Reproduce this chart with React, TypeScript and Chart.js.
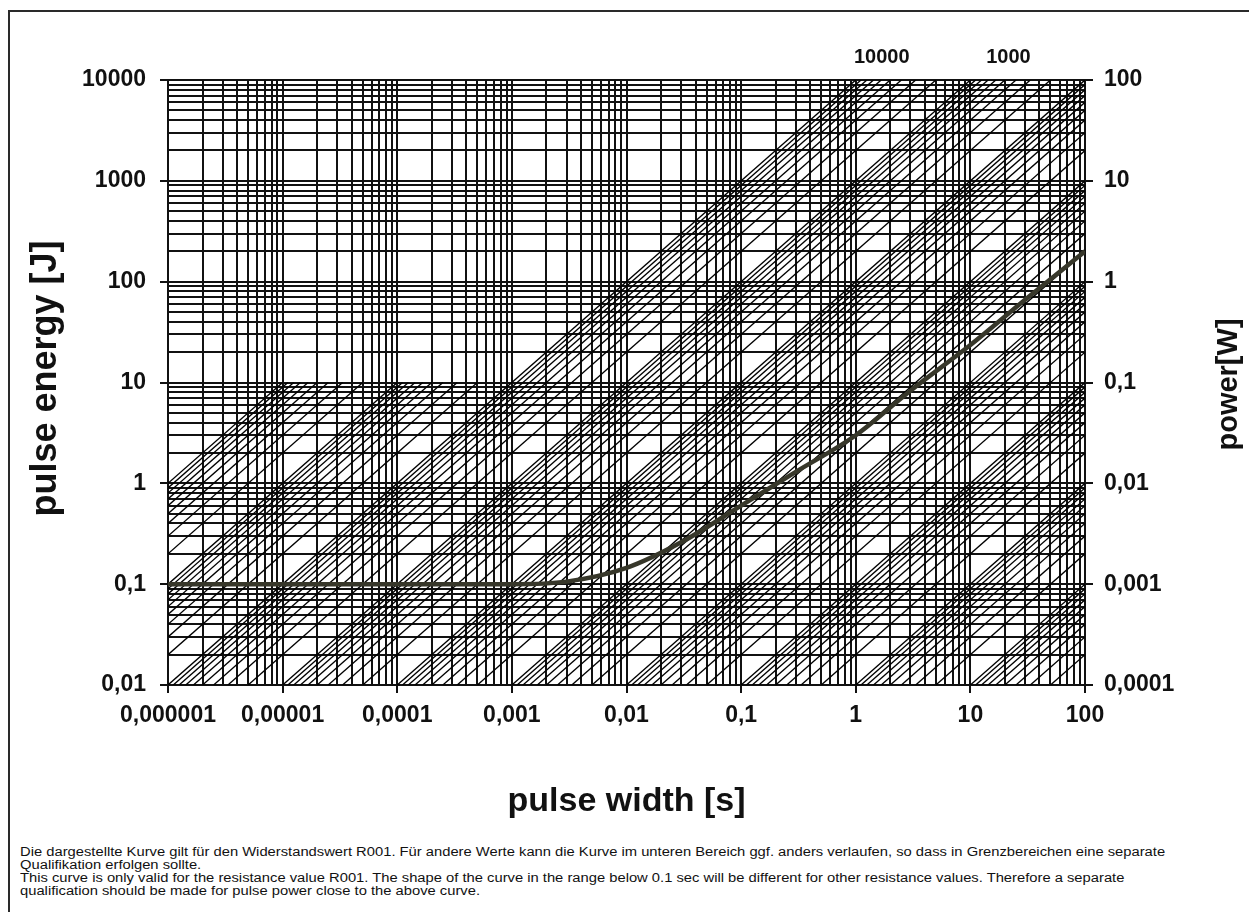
import React, { useEffect, useRef } from "react";
import { Chart, registerables } from "chart.js";

Chart.register(...registerables);

// ---- axis ticks ----
const xTickValues = [1e-6, 1e-5, 1e-4, 1e-3, 1e-2, 1e-1, 1, 10, 100];
const xTickLabels = ["0,000001", "0,00001", "0,0001", "0,001", "0,01", "0,1", "1", "10", "100"];
const yTickValues = [0.01, 0.1, 1, 10, 100, 1000, 10000];
const yTickLabels = ["0,01", "0,1", "1", "10", "100", "1000", "10000"];
const y2TickValues = [0.0001, 0.001, 0.01, 0.1, 1, 10, 100];
const y2TickLabels = ["0,0001", "0,001", "0,01", "0,1", "1", "10", "100"];
const gridMultipliers = [1, 2, 3, 4, 5, 6, 7, 8, 9];

// ---- main curve: pulse energy vs pulse width ----
const pulseWidth = [1e-6, 1e-5, 1e-4, 1e-3, 3e-3, 1e-2, 3e-2, 0.1, 0.3, 1, 3, 10, 30, 100];
const pulseEnergy = [0.1, 0.1, 0.1, 0.1, 0.106, 0.145, 0.26, 0.6, 1.3, 3.0, 8.3, 23.5, 66, 200];

// ---- constant-power diagonal lines (E = P * t) ----
const powerMantissas = [1, 2, 3, 4, 5, 6, 7, 8, 9];
const powerExponents = [-4, -3, -2, -1, 0, 1, 2, 3, 4, 5];
const extraPowers = [1e6];
const fullHeightPowerLimit = 1e4; // lines up to this power reach the top
const cappedEnergy = 10; // higher powers stop at this energy

// ---- labels above the plot (power of the lines) ----
const topLabelTexts = ["10000", "1000"];
const topLabelPowers = [10000, 1000];

const footerLines = [
  "Die dargestellte Kurve gilt für den Widerstandswert R001. Für andere Werte kann die Kurve im unteren Bereich ggf. anders verlaufen, so dass in Grenzbereichen eine separate",
  "Qualifikation erfolgen sollte.",
  "This curve is only valid for the resistance value R001. The shape of the curve in the range below 0.1 sec will be different for other resistance values. Therefore a separate",
  "qualification should be made for pulse power close to the above curve.",
];

const X_MIN = 1e-6, X_MAX = 100, Y_MIN = 0.01, Y_MAX = 10000, Y2_MIN = 0.0001, Y2_MAX = 100;
const W = 1249, H = 840;
const FONT = "'Liberation Sans', Arial, sans-serif";

const clean = (v: number) => parseFloat(v.toPrecision(12));
function gridValues(min: number, max: number) {
  const out: number[] = [];
  const e0 = Math.round(Math.log10(min));
  const e1 = Math.round(Math.log10(max));
  for (let e = e0; e <= e1; e++) {
    for (const m of gridMultipliers) {
      const v = clean(m * Math.pow(10, e));
      if (v >= min * 0.999999 && v <= max * 1.000001) out.push(v);
    }
  }
  return out;
}
const findIdx = (vals: number[], v: number) =>
  vals.findIndex((t) => Math.abs(Math.log10(t) - Math.log10(v)) < 1e-6);
const isMajor = (v: number) => Math.abs(Math.log10(v) - Math.round(Math.log10(v))) < 1e-6;

function powerLines() {
  const powers: number[] = [];
  for (const e of powerExponents) for (const m of powerMantissas) powers.push(clean(m * Math.pow(10, e)));
  powers.push(...extraPowers);
  const sets: any[] = [];
  for (const P of powers) {
    const eMax = P <= fullHeightPowerLimit ? Y_MAX : cappedEnergy;
    const t0 = Math.max(X_MIN, Y_MIN / P);
    const t1 = Math.min(X_MAX, eMax / P);
    if (t1 <= t0 * 1.0000001) continue;
    sets.push({
      type: "line",
      data: [
        { x: t0, y: P * t0 },
        { x: t1, y: P * t1 },
      ],
      borderColor: "#000",
      borderWidth: 1.35,
      pointRadius: 0,
      fill: false,
      order: 5,
    });
  }
  return sets;
}

const textPlugin = {
  id: "texts",
  afterDraw(chart: any) {
    const { ctx, chartArea } = chart;
    const xs = chart.scales.x;
    ctx.save();
    ctx.fillStyle = "#111";
    ctx.textAlign = "center";
    ctx.textBaseline = "middle";
    // left title
    ctx.save();
    ctx.translate(46, (chartArea.top + chartArea.bottom) / 2 - 4);
    ctx.rotate(-Math.PI / 2);
    ctx.font = `bold 36px ${FONT}`;
    ctx.fillText("pulse energy [J]", 0, 0);
    ctx.restore();
    // right title
    ctx.save();
    ctx.translate(1229, (chartArea.top + chartArea.bottom) / 2 + 2);
    ctx.rotate(-Math.PI / 2);
    ctx.font = `bold 29px ${FONT}`;
    ctx.fillText("power[W]", 0, 0);
    ctx.restore();
    // x title
    ctx.font = `bold 34px ${FONT}`;
    ctx.fillText("pulse width [s]", (chartArea.left + chartArea.right) / 2, chartArea.bottom + 117);
    // top labels
    ctx.font = `bold 20px ${FONT}`;
    topLabelTexts.forEach((t, i) => {
      const px = xs.getPixelForValue(Y_MAX / topLabelPowers[i]);
      ctx.fillText(t, px + 26 + i * 12, chartArea.top - 23);
    });
    ctx.restore();
  },
};

export default function App() {
  const ref = useRef<HTMLCanvasElement>(null);
  useEffect(() => {
    if (!ref.current) return;
    const tickFont = { family: FONT, size: 23, weight: "bold" as const };
    const gridCol = "#111";
    const chart = new Chart(ref.current, {
      type: "line",
      data: {
        datasets: [
          {
            data: pulseWidth.map((t, i) => ({ x: t, y: pulseEnergy[i] })),
            borderColor: "#37372a",
            borderWidth: 4.5,
            pointRadius: 0,
            cubicInterpolationMode: "monotone",
            fill: false,
            order: 0,
          } as any,
          ...powerLines(),
        ],
      },
      plugins: [textPlugin],
      options: {
        responsive: false,
        animation: false,
        devicePixelRatio: 1,
        layout: { padding: { left: 8, top: 80, right: 0, bottom: 0 } },
        plugins: { legend: { display: false }, tooltip: { enabled: false } },
        scales: {
          x: {
            type: "logarithmic",
            min: X_MIN,
            max: X_MAX,
            afterBuildTicks: (s: any) => {
              s.ticks = gridValues(X_MIN, X_MAX).map((v) => ({ value: v, major: isMajor(v) }));
            },
            afterFit: (s: any) => {
              s.height = H - 685;
            },
            ticks: {
              autoSkip: false,
              maxRotation: 0,
              padding: 9,
              color: "#111",
              font: tickFont,
              callback: (v: any) => {
                const i = findIdx(xTickValues, Number(v));
                return i >= 0 ? xTickLabels[i] : "";
              },
            },
            grid: {
              color: gridCol,
              lineWidth: 2,
              tickLength: 8,
              tickColor: (c: any) => (c.tick && isMajor(c.tick.value) ? gridCol : "rgba(0,0,0,0)"),
            },
            border: { display: true, color: gridCol, width: 2 },
          },
          y: {
            type: "logarithmic",
            position: "left",
            min: Y_MIN,
            max: Y_MAX,
            afterBuildTicks: (s: any) => {
              s.ticks = gridValues(Y_MIN, Y_MAX).map((v) => ({ value: v, major: isMajor(v) }));
            },
            afterFit: (s: any) => {
              s.width = 160;
            },
            ticks: {
              autoSkip: false,
              padding: 14,
              color: "#111",
              font: tickFont,
              callback: (v: any) => {
                const i = findIdx(yTickValues, Number(v));
                return i >= 0 ? yTickLabels[i] : "";
              },
            },
            grid: {
              color: gridCol,
              lineWidth: 2,
              tickLength: 8,
              tickColor: (c: any) => (c.tick && isMajor(c.tick.value) ? gridCol : "rgba(0,0,0,0)"),
            },
            border: { display: true, color: gridCol, width: 2 },
          },
          y2: {
            type: "logarithmic",
            position: "right",
            min: Y2_MIN,
            max: Y2_MAX,
            afterBuildTicks: (s: any) => {
              s.ticks = y2TickValues.map((v) => ({ value: v, major: true }));
            },
            afterFit: (s: any) => {
              s.width = W - 1085;
            },
            ticks: {
              autoSkip: false,
              padding: 11,
              color: "#111",
              font: tickFont,
              callback: (v: any) => {
                const i = findIdx(y2TickValues, Number(v));
                return i >= 0 ? y2TickLabels[i] : "";
              },
            },
            grid: { drawOnChartArea: false, color: gridCol, lineWidth: 2, tickLength: 8 },
            border: { display: true, color: gridCol, width: 2 },
          },
        },
      } as any,
    });
    return () => chart.destroy();
  }, []);

  return (
    <div style={{ position: "absolute", left: 0, top: 0, width: W, height: 912, background: "#fff", overflow: "hidden" }}>
      <div
        style={{
          position: "absolute",
          left: 8,
          top: 10,
          width: W,
          height: 920,
          borderLeft: "2px solid #2a2a2a",
          borderTop: "2px solid #2a2a2a",
        }}
      />
      <canvas ref={ref} width={W} height={H} style={{ position: "absolute", left: 0, top: 0, width: W, height: H }} />
      <div
        style={{
          position: "absolute",
          left: 20,
          top: 846,
          fontFamily: FONT,
          fontSize: 12.5,
          lineHeight: "13px",
          color: "#111",
          whiteSpace: "pre",
          transform: "scaleX(1.18)",
          transformOrigin: "left top",
        }}
      >
        {footerLines.map((l, i) => (
          <div key={i}>{l}</div>
        ))}
      </div>
    </div>
  );
}
